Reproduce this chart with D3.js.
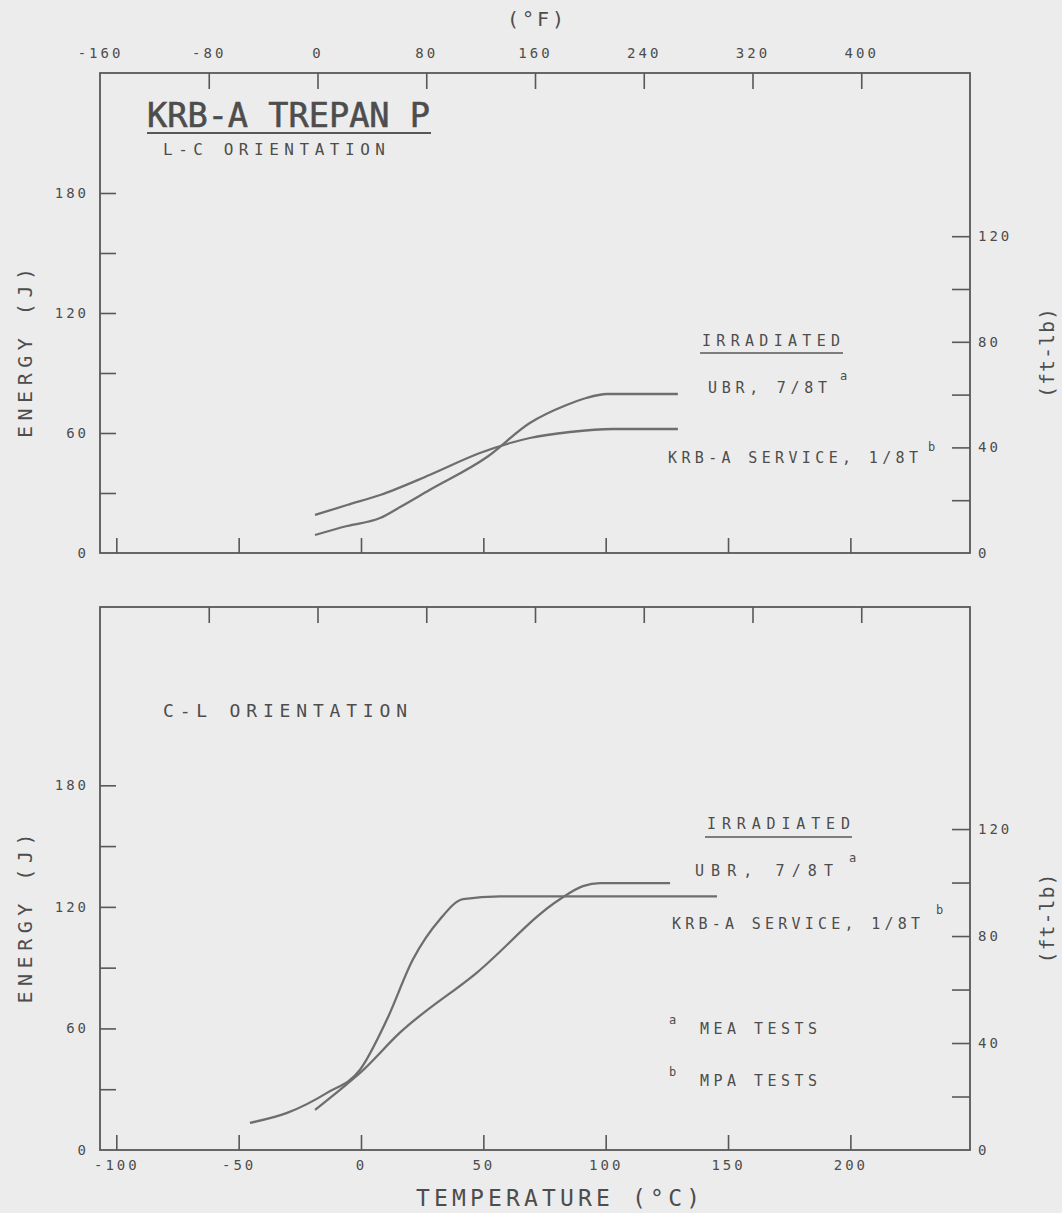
<!DOCTYPE html>
<html><head><meta charset="utf-8">
<script src="https://cdn.jsdelivr.net/npm/d3@7"></script>
<style>
html,body{margin:0;padding:0;background:#ececec;}
svg{display:block;}
text{font-family:"DejaVu Sans Mono",monospace;fill:#4d4d4d;}
</style></head><body>
<svg id="chart" width="1062" height="1213"></svg>
<script>
// ---------- data ----------
const tempCTicks = [-100, -50, 0, 50, 100, 150, 200];
const tempFTicks = [-160, -80, 0, 80, 160, 240, 320, 400];
const tempFDomain = [-160, 480];
const energyJTicks = [0, 30, 60, 90, 120, 150, 180];
const energyJLabels = [0, 60, 120, 180];
const ftlbTicks = [0, 20, 40, 60, 80, 100, 120];
const ftlbLabels = [0, 40, 80, 120];
const FT_LB_TO_J = 1.32; // as drawn on the original

// L-C orientation (top panel)
const topUBR_T = [-18.8, -5.7, 7.8, 16, 28, 51.5, 69, 84, 92, 100.5, 129.5];
const topUBR_E = [9, 13.5, 17.5, 23, 31.5, 48, 65, 74, 77.5, 79.5, 79.5];
const topKRB_T = [-18.8, -5.7, 7.8, 28, 48.6, 61, 69, 85.4, 103, 129.5];
const topKRB_E = [19, 24, 29, 39, 50, 55, 57.5, 60.5, 62, 62];
// C-L orientation (bottom panel)
const botUBR_T = [-18.8, -8.6, -0.4, 15.9, 47.4, 81.3, 90.7, 97.7, 126.3];
const botUBR_E = [19.8, 29.7, 38, 57.9, 87.6, 123.8, 130.2, 131.7, 131.7];
const botKRB_T = [-45.4, -30.2, -13.9, -0.4, 10.6, 21.2, 32.3, 41.7, 56.8, 145.5];
const botKRB_E = [13.4, 18.3, 28.2, 39.6, 64.4, 94, 113.9, 123.8, 125.2, 125.2];

// ---------- layout ----------
const svg = d3.select("#chart");
const L = 100, R = 970;
const f2c = f => (f - 32) * 5 / 9;
const xF = d3.scaleLinear().domain(tempFDomain).range([L, R]);
const xC = d3.scaleLinear().domain(tempFDomain.map(f2c)).range([L, R]);
const INK = "#585858";

const panels = [
  {top: 73, bottom: 553, eMax: 240, first: true,
   curves: [[topUBR_T, topUBR_E], [topKRB_T, topKRB_E]]},
  {top: 607, bottom: 1150, eMax: 268, first: false,
   curves: [[botUBR_T, botUBR_E], [botKRB_T, botKRB_E]]}
];

function styleAxis(g, fs) {
  g.select(".domain").remove();
  g.selectAll(".tick line").attr("stroke", INK).attr("stroke-width", 1.6);
  g.selectAll(".tick text").attr("font-family", "DejaVu Sans Mono")
    .attr("font-size", fs).attr("letter-spacing", 3).attr("fill", "#4d4d4d");
}
const fmt = labels => d => labels.includes(d) ? String(d) : "";

panels.forEach(p => {
  const y = d3.scaleLinear().domain([0, p.eMax]).range([p.bottom, p.top]);
  const yFt = d3.scaleLinear().domain([0, p.eMax / FT_LB_TO_J]).range([p.bottom, p.top]);
  const g = svg.append("g");

  // frame
  g.append("rect").attr("x", L).attr("y", p.top).attr("width", R - L).attr("height", p.bottom - p.top)
    .attr("fill", "none").attr("stroke", INK).attr("stroke-width", 1.8);

  // left J axis
  g.append("g").attr("transform", `translate(${L},0)`)
    .call(d3.axisLeft(y).tickValues(energyJTicks).tickSizeInner(-16).tickSizeOuter(0)
      .tickPadding(11).tickFormat(fmt(energyJLabels)))
    .call(a => styleAxis(a, 14))
    .call(a => a.selectAll(".tick").filter(d => d === 0).select("line").remove());

  // right ft-lb axis
  g.append("g").attr("transform", `translate(${R},0)`)
    .call(d3.axisRight(yFt).tickValues(ftlbTicks).tickSizeInner(-18).tickSizeOuter(0)
      .tickPadding(8).tickFormat(fmt(ftlbLabels)))
    .call(a => styleAxis(a, 14))
    .call(a => a.selectAll(".tick").filter(d => d === 0).select("line").remove());

  // bottom °C axis
  g.append("g").attr("transform", `translate(0,${p.bottom})`)
    .call(d3.axisBottom(xC).tickValues(tempCTicks).tickSizeInner(-15).tickSizeOuter(0)
      .tickPadding(10).tickFormat(p.first ? () => "" : d => String(d)))
    .call(a => styleAxis(a, 14));

  // top °F axis
  g.append("g").attr("transform", `translate(0,${p.top})`)
    .call(d3.axisTop(xF).tickValues(tempFTicks).tickSizeInner(-16).tickSizeOuter(0)
      .tickPadding(15).tickFormat(p.first ? d => String(d) : () => ""))
    .call(a => styleAxis(a, 14))
    .call(a => a.selectAll(".tick").filter(d => d === -160).select("line").remove());

  // curves
  const line = d3.line().x(d => xC(d[0])).y(d => y(d[1])).curve(d3.curveMonotoneX);
  p.curves.forEach(([T, E]) => {
    g.append("path").datum(T.map((t, i) => [t, E[i]])).attr("d", line)
      .attr("fill", "none").attr("stroke", "#6e6e6e").attr("stroke-width", 2.3);
  });

  // axis titles
  const yc = (p.top + p.bottom) / 2 + 40;
  g.append("text").attr("transform", `translate(32,${yc}) rotate(-90)`).attr("text-anchor", "middle")
    .attr("font-family", "Liberation Sans").attr("font-size", 20)
    .attr("textLength", 170).attr("lengthAdjust", "spacing").text("ENERGY (J)");
  g.append("text").attr("transform", `translate(1054,${yc}) rotate(-90)`).attr("text-anchor", "middle")
    .attr("font-family", "Liberation Sans").attr("font-size", 20)
    .attr("textLength", 90).attr("lengthAdjust", "spacing").text("(ft-lb)");
});

// top °F title
svg.append("text").attr("x", 537).attr("y", 26).attr("text-anchor", "middle")
  .attr("font-family", "Liberation Sans").attr("font-size", 20).attr("letter-spacing", 3).text("(°F)");
// bottom °C title
svg.append("text").attr("x", 416).attr("y", 1206)
  .attr("font-family", "Liberation Sans").attr("font-size", 23)
  .attr("textLength", 284).attr("lengthAdjust", "spacing").text("TEMPERATURE (°C)");

// title block
svg.append("text").attr("x", 147).attr("y", 127).attr("font-family", "Liberation Sans")
  .attr("font-size", 34).attr("stroke", "#4d4d4d").attr("stroke-width", 0.6)
  .attr("textLength", 283).attr("lengthAdjust", "spacingAndGlyphs").text("KRB-A TREPAN P");
svg.append("line").attr("x1", 147).attr("x2", 431).attr("y1", 133).attr("y2", 133)
  .attr("stroke", INK).attr("stroke-width", 2);
svg.append("text").attr("x", 163).attr("y", 155).attr("font-size", 16)
  .attr("textLength", 222).attr("lengthAdjust", "spacing").text("L-C ORIENTATION");
svg.append("text").attr("x", 163).attr("y", 717).attr("font-size", 18)
  .attr("textLength", 244).attr("lengthAdjust", "spacing").text("C-L ORIENTATION");

// legends
function legendText(x, y, txt, len, sup, sx, sy) {
  svg.append("text").attr("x", x).attr("y", y).attr("font-size", 15)
    .attr("textLength", len).attr("lengthAdjust", "spacing").text(txt);
  if (sup) svg.append("text").attr("x", sx).attr("y", sy).attr("font-size", 12).text(sup);
}
// top panel
legendText(702, 346, "IRRADIATED", 138);
svg.append("line").attr("x1", 700).attr("x2", 843).attr("y1", 353).attr("y2", 353).attr("stroke", INK).attr("stroke-width", 1.6);
legendText(708, 393, "UBR, 7/8T", 119, "a", 840, 380);
legendText(668, 463, "KRB-A SERVICE, 1/8T", 250, "b", 928, 451);
// bottom panel
legendText(707, 829, "IRRADIATED", 143);
svg.append("line").attr("x1", 705).attr("x2", 852).attr("y1", 837).attr("y2", 837).attr("stroke", INK).attr("stroke-width", 1.6);
legendText(695, 876, "UBR,  7/8T", 138, "a", 849, 862);
legendText(672, 929, "KRB-A SERVICE, 1/8T", 248, "b", 936, 914);
legendText(700, 1034, "MEA TESTS", 117, "a", 669, 1024);
legendText(700, 1086, "MPA TESTS", 117, "b", 669, 1076);
</script>
</body></html>
